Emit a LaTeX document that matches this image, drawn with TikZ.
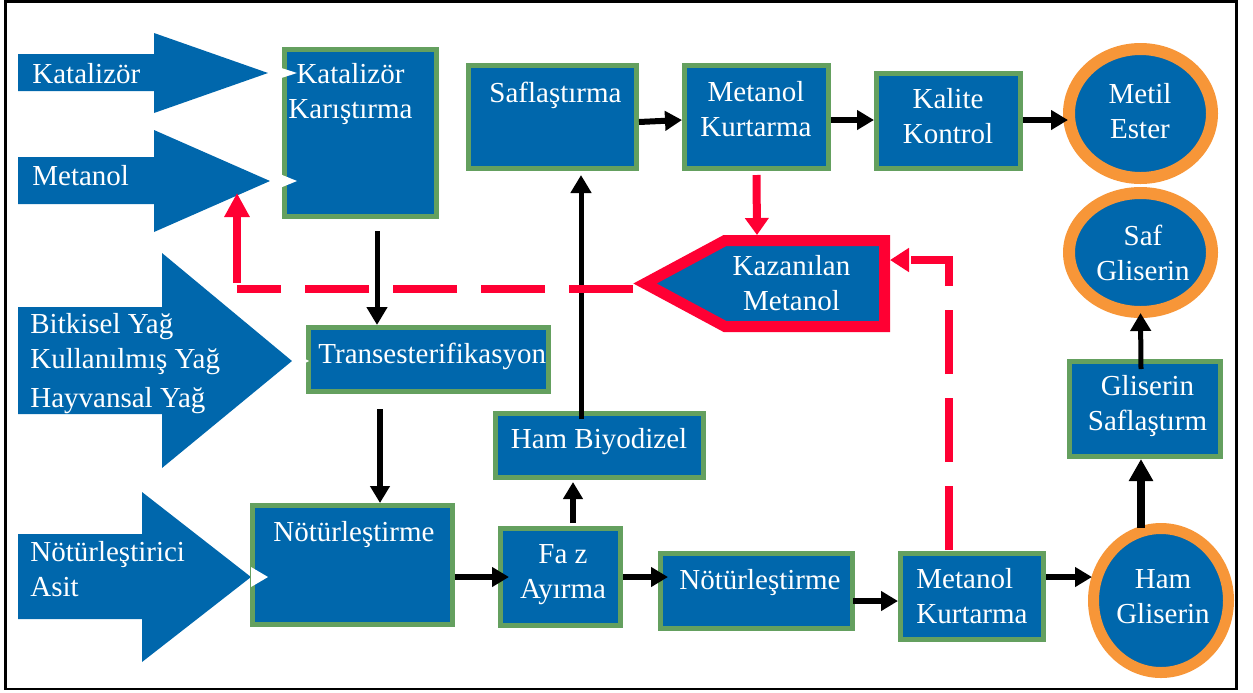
\documentclass[tikz,border=0pt]{standalone}
\usepackage{fontspec}
\setmainfont{Liberation Serif}
\usetikzlibrary{arrows.meta,shapes.geometric,calc}
\definecolor{bdblue}{RGB}{0,103,172}
\definecolor{bdgreen}{RGB}{100,160,95}
\definecolor{bdorange}{RGB}{247,150,56}
\definecolor{bdred}{RGB}{255,0,51}
\tikzset{
  bdfeed/.style={fill=bdblue},
  bdnotch/.style={fill=white},
  bdbox/.style={
    rectangle, draw=bdgreen, fill=bdblue, line width=2.5pt,
    outer sep=1.25pt, inner sep=0pt
  },
  bdproduct/.style={
    ellipse, draw=bdorange, fill=bdblue, line width=6pt,
    outer sep=3pt, inner sep=0pt
  },
  bdtext/.style={text=white,font=\fontsize{14.5pt}{17.5pt}\selectfont,inner sep=0pt,align=center},
  bdflow/.style={-{Triangle[length=8.5pt,width=9.5pt]},line width=3pt},
  bdflowthin/.style={-{Triangle[length=9pt,width=10pt]},line width=2.5pt},
  bdrecycle/.style={bdred,line width=4pt,dash pattern=on 32pt off 12pt},
  bdrecyclearrow/.style={-{Triangle[length=8.5pt,width=11.5pt]},bdred,line width=4pt}
}

\begin{document}
\begin{tikzpicture}[x=0.5pt,y=-0.5pt]
  \useasboundingbox (0,0) rectangle (1253,692);
  \draw[line width=1.3pt] (5.3,1.5) rectangle (1236.7,689);

  % feed streams (multi-line labels sit on their last baseline)
  \fill[bdfeed] (18,54) -- (154,54) -- (154,33) -- (268,73) -- (154,113) -- (154,91) -- (18,91) -- cycle;
  \fill[bdfeed] (18,157) -- (154,157) -- (154,130) -- (270,181) -- (154,232) -- (154,204) -- (18,204) -- cycle;
  \fill[bdfeed] (18,307) -- (162,307) -- (162,253) -- (292,361) -- (162,468) -- (162,414) -- (18,414) -- cycle;
  \fill[bdfeed] (18,534) -- (142,534) -- (142,492) -- (251,577) -- (142,662) -- (142,619) -- (18,619) -- cycle;
  \node[bdtext,anchor=base west,align=left] (katin) at (32,83) {Katalizör};
  \node[bdtext,anchor=base west,align=left] (metin) at (32,185) {Metanol};
  \node[bdtext,anchor=base west,align=left] (yagin) at (30,407) {Bitkisel Yağ\\Kullanılmış Yağ\\[2pt]Hayvansal Yağ};
  \node[bdtext,anchor=base west,align=left] (asitin) at (30,596) {Nötürleştirici\\Asit};

  % process steps
  \node[bdbox,minimum width=76pt,minimum height=83.5pt] (katmix) at (360.5,133) {};
  \node[bdbox,minimum width=84pt,minimum height=51.5pt] (safl) at (552.5,117) {};
  \node[bdbox,minimum width=72pt,minimum height=51.5pt] (mkup) at (756.5,117) {};
  \node[bdbox,minimum width=72pt,minimum height=47.5pt] (kalite) at (948.5,121) {};
  \node[bdbox,minimum width=120pt,minimum height=32pt] (trans) at (428.5,359.5) {};
  \node[bdbox,minimum width=104pt,minimum height=32pt] (hambiyo) at (599.5,445.5) {};
  \node[bdbox,minimum width=100pt,minimum height=59.5pt] (notr1) at (352.5,565) {};
  \node[bdbox,minimum width=60pt,minimum height=48.5pt] (faz) at (560.5,577) {};
  \node[bdbox,minimum width=96pt,minimum height=37.5pt] (notr2) at (756.5,591) {};
  \node[bdbox,minimum width=71.5pt,minimum height=43pt] (mkdown) at (972,596.5) {};
  \node[bdbox,minimum width=75.5pt,minimum height=47.5pt] (glsafl) at (1145,409) {};

  % products
  \node[bdproduct,minimum width=71.5pt,minimum height=64.5pt] (metil) at (1140.5,113.5) {};
  \node[bdproduct,minimum width=71.5pt,minimum height=59.5pt] (safgl) at (1140.5,252.5) {};
  \node[bdproduct,line width=5.5pt,outer sep=2.75pt,minimum width=67.5pt,minimum height=72pt] (hamgl) at (1161,600.5) {};

  % recovered methanol
  \node[minimum width=79.75pt,minimum height=43pt,inner sep=0pt,outer sep=0pt] (kazan) at (804.75,283.5) {};
  \filldraw[draw=bdred,fill=bdblue,line width=5.5pt] (kazan.north west) -- (kazan.north east)
    -- (kazan.south east) -- (kazan.south west) -- ([xshift=-40pt]kazan.west) -- cycle;

  % feed tips cutting into the boxes
  \fill[bdnotch] (268,63.7) -- (297,73) -- (268,82.3) -- cycle;
  \fill[bdnotch] (270,170) -- (297,181) -- (270,192) -- cycle;
  \fill[bdnotch] (292,352) -- (309,361) -- (292,370) -- cycle;
  \fill[bdnotch] (251,567) -- (268,577) -- (251,587) -- cycle;

  % labels
  \node[bdtext,anchor=base] (katmix-t) at (350.5,118) {Katalizör\\Karıştırma};
  \node[bdtext,anchor=base] (safl-t) at (555.5,102) {Saflaştırma};
  \node[bdtext,anchor=base] (mkup-t) at (756,136) {Metanol\\Kurtarma};
  \node[bdtext,anchor=base] (kalite-t) at (948,143) {Kalite\\Kontrol};
  \node[bdtext,anchor=base] (metil-t) at (1140,138) {Metil\\Ester};
  \node[bdtext,anchor=base] (safgl-t) at (1143,280) {Saf\\Gliserin};
  \node[bdtext,anchor=base] (kazan-t) at (791.5,310) {Kazanılan\\Metanol};
  \node[bdtext,anchor=base west] (trans-t) at (318,363) {Transesterifikasyon};
  \node[bdtext,anchor=base] (hambiyo-t) at (599,448) {Ham Biyodizel};
  \node[bdtext,anchor=base] (notr1-t) at (354,541) {Nötürleştirme};
  \node[bdtext,anchor=base] (faz-t) at (563,598) {Fa z\\Ayırma};
  \node[bdtext,anchor=base] (notr2-t) at (760,589) {Nötürleştirme};
  \node[bdtext,anchor=base west,align=left] (mkdown-t) at (916,623) {Metanol\\Kurtarma};
  \node[bdtext,anchor=base] (glsafl-t) at (1147.5,430) {Gliserin\\Saflaştırm};
  \node[bdtext,anchor=base] (hamgl-t) at (1163,623) {Ham\\Gliserin};

  % main flow
  \draw[bdflowthin] ([xshift=8.25pt,yshift=-6pt]katmix.south) -- ([xshift=-25.75pt]trans.north);
  \draw[bdflow] ([xshift=-24.25pt,yshift=-7.5pt]trans.south) -- ([xshift=13.75pt]notr1.north);
  \draw[bdflow] ([yshift=-6pt]notr1.east) -- ([xshift=5.5pt]faz.west);
  \draw[bdflow] ([xshift=6.25pt,yshift=1.5pt]faz.north) -- ([xshift=-13.25pt,yshift=-1pt]hambiyo.south);
  \draw[bdflowthin] ([xshift=-9.25pt,yshift=-4pt]hambiyo.north) -- ([xshift=14.25pt,yshift=-2pt]safl.south);
  \draw[bdflow] ([yshift=-2.5pt]safl.east) -- ([yshift=-1.5pt]mkup.west);
  \draw[bdflow] ([yshift=-1.5pt]mkup.east) -- ([yshift=0.5pt]kalite.west);
  \draw[bdflow] ([yshift=0.5pt]kalite.east) -- ([xshift=2.5pt,yshift=-3.25pt]metil.west);

  % glycerine side
  \draw[bdflow] (faz.east) -- ([xshift=5pt,yshift=7pt]notr2.west);
  \draw[bdflow] ([xshift=-1pt,yshift=-5pt]notr2.east) -- ([yshift=-2.25pt]mkdown.west);
  \draw[bdflow] ([yshift=9.75pt]mkdown.east) -- ([xshift=2pt,yshift=11.75pt]hamgl.west);
  \draw[-{Triangle[length=11pt,width=11.5pt]},line width=4pt] ([xshift=-10pt,yshift=-2.5pt]hamgl.north) -- ([xshift=-2pt]glsafl.south);
  \draw[bdflowthin] ([xshift=-2pt,yshift=-5pt]glsafl.north) -- ([yshift=2.5pt]safgl.south);

  % methanol recycle
  \coordinate (loopcorner) at (237,289);
  \coordinate (loopend) at (237,193);
  \draw[bdrecyclearrow] ([yshift=-2pt]mkup.south) -- ([xshift=-23.875pt,yshift=2.75pt]kazan.north);
  \draw[bdrecycle,-{Triangle[length=9.5pt,width=11.5pt]}] ([xshift=-11.5pt,yshift=0.5pt]mkdown.north) |- ([xshift=2.75pt,yshift=11.75pt]kazan.east);
  \draw[bdrecycle] ([xshift=-46pt,yshift=-2.75pt]kazan.west) -- (loopcorner);
  \draw[bdrecyclearrow,-{Triangle[length=12pt,width=12pt]}] ([yshift=3pt]loopcorner) -- (loopend);
\end{tikzpicture}
\end{document}
